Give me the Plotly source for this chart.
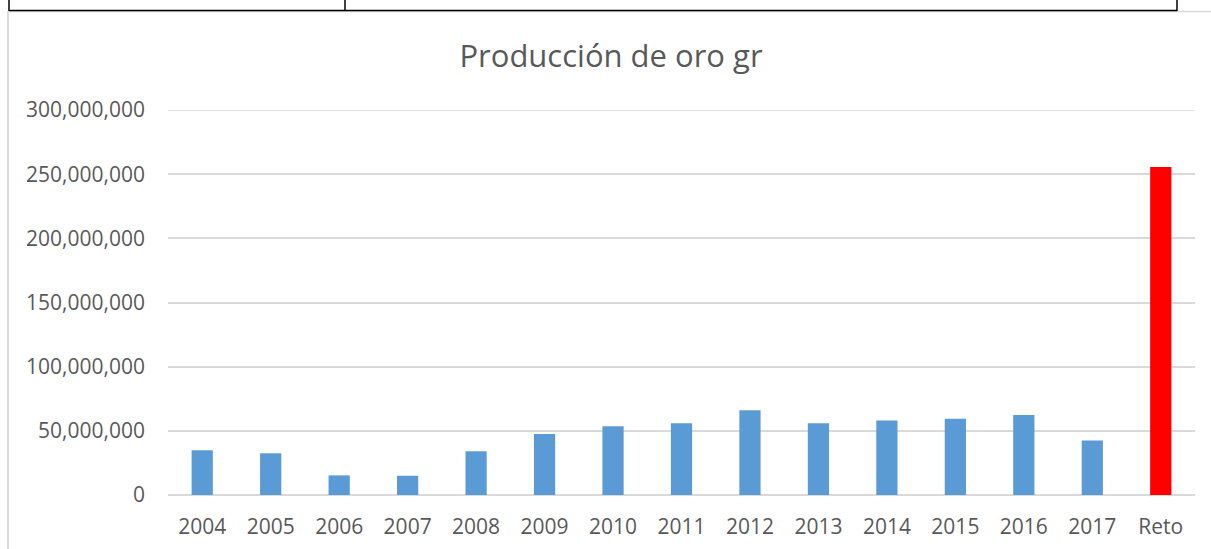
import plotly.graph_objects as go

categories = ["2004", "2005", "2006", "2007", "2008", "2009", "2010", "2011",
              "2012", "2013", "2014", "2015", "2016", "2017", "Reto"]
production = [34.8e6, 32.5e6, 15.3e6, 15.0e6, 34.0e6, 47.5e6, 53.5e6, 55.9e6,
              66.0e6, 55.9e6, 58.0e6, 59.5e6, 62.3e6, 42.4e6, 255.6e6]
bar_colors = ["#5B9BD5"] * 14 + ["#FF0000"]
y_ticks = [0, 50e6, 100e6, 150e6, 200e6, 250e6, 300e6]
y_tick_text = ["0", "50,000,000", "100,000,000", "150,000,000",
               "200,000,000", "250,000,000", "300,000,000"]

W, H = 1211, 549
L, R, T, B = 168, 1195, 110, 495
pw, ph = R - L, B - T

def px(x):
    return (x - L) / pw

def py(y):
    return (B - y) / ph

fig = go.Figure(go.Bar(
    x=categories, y=production, marker=dict(color=bar_colors, line=dict(width=0)),
    hoverinfo="x+y"))

font = "Open Sans, Liberation Sans, sans-serif"
fig.update_layout(
    width=W, height=H,
    margin=dict(l=L, r=W - R, t=T, b=H - B, pad=0, autoexpand=False),
    paper_bgcolor="white", plot_bgcolor="white",
    bargap=0.69,
    showlegend=False,
    title=dict(text="Producción de oro gr", x=611 / W, xanchor="center",
               y=1 - 56 / H, yanchor="middle", yref="container",
               font=dict(family=font, size=31, color="#595959")),
    font=dict(family=font, size=21, color="#595959"),
    xaxis=dict(showgrid=False, showline=False, zeroline=False, ticks="",
               automargin=False,
               ticklabelstandoff=17, tickfont=dict(size=21, color="#595959")),
    yaxis=dict(range=[0, 300e6], tickvals=y_ticks, ticktext=y_tick_text,
               automargin=False,
               showgrid=True, gridcolor="#D9D9D9", gridwidth=1.5,
               zeroline=True, zerolinecolor="#D9D9D9", zerolinewidth=1.5,
               showline=False, ticks="", ticklabelstandoff=22,
               tickfont=dict(size=21, color="#595959")),
)

shapes = []
# top gridline (at the upper end of the axis range)
shapes.append(dict(type="line", xref="paper", yref="y", layer="below",
                   x0=0, x1=1, y0=y_ticks[-1], y1=y_ticks[-1],
                   line=dict(color="#D9D9D9", width=1.5)))
# chart area outline (light gray): left edge and top edge
shapes.append(dict(type="line", xref="paper", yref="paper",
                   x0=px(8), x1=px(8), y0=py(11), y1=py(560),
                   line=dict(color="#D9D9D9", width=2)))
shapes.append(dict(type="line", xref="paper", yref="paper",
                   x0=px(8), x1=px(1215), y0=py(11.5), y1=py(11.5),
                   line=dict(color="#D9D9D9", width=1.5)))
# table borders (black) at the top
shapes.append(dict(type="line", xref="paper", yref="paper",
                   x0=px(9), x1=px(1177), y0=py(10.5), y1=py(10.5),
                   line=dict(color="black", width=1.5)))
for xv in [9, 345, 1177]:
    shapes.append(dict(type="line", xref="paper", yref="paper",
                       x0=px(xv), x1=px(xv), y0=py(-5), y1=py(11),
                       line=dict(color="black", width=1.5)))
fig.update_layout(shapes=shapes)

fig.write_html("out.html",
               config={"displayModeBar": False},
               post_script="document.body.style.margin='0';"
                           "document.body.style.overflow='hidden';")
